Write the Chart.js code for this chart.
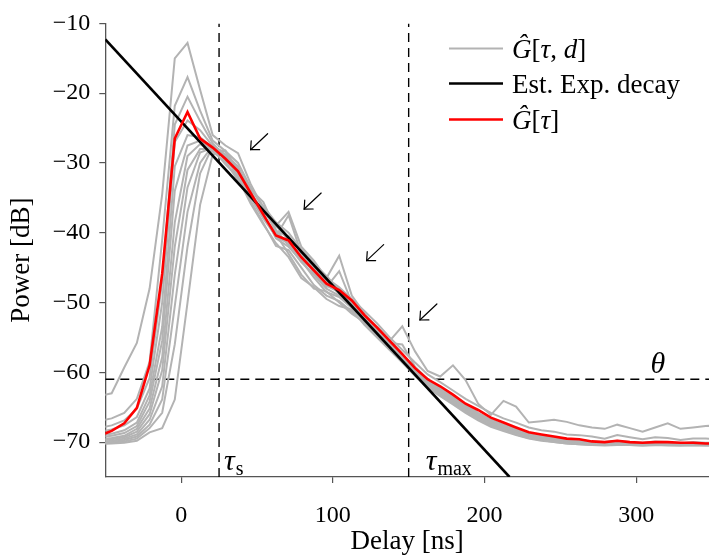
<!DOCTYPE html>
<html><head><meta charset="utf-8">
<script src="https://cdn.jsdelivr.net/npm/chart.js@4.4.0/dist/chart.umd.min.js"></script>
<style>html,body{margin:0;padding:0;background:#fff;}canvas{display:block;}</style>
</head><body>
<canvas id="c" width="709" height="559"></canvas>
<script>
// ---- data ----
const delay = [-54.2,-45.8,-37.5,-29.2,-20.8,-12.5,-4.2,4.2,12.5,20.8,29.2,37.5,45.8,54.2,62.5,70.8,79.2,87.5,95.8,104.2,112.5,120.8,129.2,137.5,145.8,154.2,162.5,170.8,179.2,187.5,195.8,204.2,212.5,220.8,229.2,237.5,245.8,254.2,262.5,270.8,279.2,287.5,295.8,304.2,312.5,320.8,329.2,337.5,345.8,354.2];

const gA = [-63.4,-63.0,-59.3,-55.8,-48.0,-34.5,-15.0,-12.8,-19.5,-26.0,
 -27.5,-28.6,-33.0,-36.5,-39.0,-37.0,-42.0,-44.0,-46.5,-43.3,-49.0,-51.5,-53.8,-55.5,-53.4,-57.0,-59.8,-60.6,-59.0,-61.1,
 -64.5,-66.1,-64.1,-64.9,-67.2,-67.0,-66.8,-67.1,-67.6,-67.9,-68.1,-67.5,-68.0,-68.5,-67.9,-67.3,-68.1,-67.9,-67.7,-67.6];
const gB = [-67.0,-66.6,-65.8,-63.8,-58.5,-41.0,-21.8,-17.7,-22.5,-26.8,
 -28.3,-30.0,-33.5,-36.5,-39.8,-40.5,-42.8,-44.8,-46.5,-47.8,-49.5,-51.2,-53.0,-55.0,-56.8,-58.6,-60.3,-61.4,-62.6,-63.8,
 -64.8,-65.8,-66.6,-67.2,-67.9,-68.3,-68.5,-68.9,-69.0,-69.2,-69.5,-69.0,-69.3,-69.6,-69.3,-69.4,-69.7,-69.5,-69.5,-69.6];
const gC = [-68.0,-67.6,-66.9,-65.2,-60.8,-47.0,-24.5,-20.5,-24.0,-27.2,
 -29.0,-31.0,-34.0,-37.5,-40.6,-41.5,-43.8,-45.5,-47.6,-48.5,-50.2,-52.3,-54.0,-56.0,-57.8,-59.8,-61.4,-62.6,-63.8,-65.0,
 -66.0,-67.0,-67.6,-68.2,-68.8,-69.2,-69.4,-69.6,-69.7,-69.9,-70.0,-69.8,-70.0,-70.1,-69.9,-70.0,-70.2,-70.0,-70.1,-70.1];
const gD = [-68.5,-68.2,-67.6,-66.4,-62.3,-50.0,-27.0,-23.9,-25.3,-27.6,
 -29.6,-31.5,-35.0,-38.0,-40.5,-37.5,-43.0,-45.8,-47.8,-45.5,-50.0,-51.8,-53.6,-55.8,-56.0,-59.2,-61.0,-62.2,-63.4,-64.6,
 -65.8,-66.8,-67.5,-68.1,-68.8,-69.2,-69.5,-69.8,-69.9,-70.0,-70.2,-70.0,-70.1,-70.2,-70.0,-70.1,-70.2,-70.2,-70.3,-70.2];
const gE = [-69.0,-68.8,-68.3,-67.2,-63.3,-53.5,-30.5,-26.0,-26.3,-27.8,
 -28.4,-30.8,-33.8,-35.6,-39.6,-41.8,-44.2,-46.0,-48.0,-49.0,-50.5,-52.6,-54.4,-56.3,-58.0,-59.9,-61.6,-62.8,-64.0,-65.2,
 -66.3,-67.2,-67.9,-68.5,-69.0,-69.4,-69.7,-69.9,-70.1,-70.2,-70.3,-70.1,-70.2,-70.3,-70.2,-70.3,-70.3,-70.2,-70.4,-70.3];
const gF = [-69.3,-69.1,-68.7,-67.7,-64.2,-55.5,-34.0,-27.5,-26.8,-28.2,
 -29.0,-31.8,-35.5,-38.6,-41.9,-42.5,-45.0,-47.5,-49.0,-49.8,-51.3,-53.0,-54.8,-56.6,-58.4,-60.2,-61.9,-63.0,-64.2,-65.4,
 -66.5,-67.4,-68.1,-68.7,-69.2,-69.6,-69.8,-70.0,-70.2,-70.3,-70.4,-70.2,-70.3,-70.4,-70.3,-70.3,-70.4,-70.4,-70.4,-70.4];
const gG = [-69.6,-69.4,-69.1,-68.1,-65.2,-57.8,-38.5,-29.0,-27.3,-28.4,
 -29.8,-32.5,-34.8,-37.8,-40.2,-43.0,-46.0,-48.0,-48.4,-50.0,-51.6,-52.8,-54.6,-56.6,-58.5,-60.3,-62.0,-63.2,-64.4,-65.6,
 -66.7,-67.6,-68.3,-68.9,-69.4,-69.7,-70.0,-70.2,-70.3,-70.4,-70.4,-70.3,-70.4,-70.5,-70.4,-70.4,-70.5,-70.4,-70.5,-70.5];
const gH = [-69.8,-69.6,-69.3,-68.5,-66.0,-59.7,-42.0,-31.0,-28.0,-28.0,
 -30.2,-32.0,-34.2,-37.0,-39.0,-41.0,-42.5,-45.0,-46.8,-48.8,-50.6,-52.2,-54.2,-56.2,-58.0,-59.8,-61.5,-62.7,-63.9,-65.1,
 -66.2,-67.1,-67.8,-68.5,-69.0,-69.4,-69.7,-69.9,-70.0,-70.1,-70.2,-70.1,-70.2,-70.2,-70.1,-70.2,-70.3,-70.2,-70.3,-70.3];
const gI = [-70.0,-69.8,-69.5,-68.9,-66.8,-62.0,-46.0,-33.5,-28.5,-27.8,
 -29.4,-31.0,-33.6,-36.2,-38.5,-40.0,-42.4,-44.4,-46.2,-48.2,-50.0,-51.7,-53.5,-55.4,-57.4,-59.4,-61.0,-62.3,-63.5,-64.8,
 -65.9,-66.9,-67.6,-68.3,-68.8,-69.2,-69.5,-69.8,-69.9,-70.0,-70.1,-70.0,-70.1,-70.2,-70.1,-70.1,-70.2,-70.2,-70.2,-70.2];
const gJ = [-70.1,-70.0,-69.7,-69.2,-67.5,-63.9,-50.5,-37.0,-30.0,-27.5,
 -29.0,-32.2,-35.8,-38.8,-41.5,-43.5,-46.5,-47.8,-49.5,-50.5,-51.0,-53.2,-55.0,-56.8,-58.6,-60.5,-62.2,-63.4,-64.6,-65.8,
 -66.9,-67.8,-68.4,-69.0,-69.5,-69.8,-70.0,-70.2,-70.3,-70.4,-70.5,-70.4,-70.4,-70.5,-70.4,-70.5,-70.5,-70.5,-70.5,-70.5];
const gK = [-70.2,-70.1,-69.9,-69.5,-68.0,-65.8,-56.0,-42.0,-31.5,-27.6,
 -28.8,-30.5,-34.2,-37.2,-40.8,-42.0,-44.0,-46.4,-48.5,-49.2,-50.8,-52.5,-54.2,-56.0,-57.9,-59.9,-61.6,-62.9,-64.1,-65.3,
 -66.4,-67.3,-68.0,-68.6,-69.1,-69.5,-69.8,-70.0,-70.2,-70.3,-70.3,-70.2,-70.3,-70.3,-70.3,-70.3,-70.4,-70.3,-70.4,-70.4];
const gL = [-70.3,-70.2,-70.1,-69.8,-68.6,-68.0,-63.9,-50.0,-36.0,-28.8,
 -28.2,-31.4,-34.6,-37.8,-40.0,-41.6,-43.2,-45.2,-47.2,-48.0,-49.8,-52.0,-53.8,-55.6,-57.6,-59.6,-61.3,-62.5,-63.7,-64.9,
 -66.0,-67.0,-67.7,-68.4,-68.9,-69.3,-69.6,-69.9,-70.0,-70.1,-70.2,-70.1,-70.2,-70.3,-70.2,-70.2,-70.3,-70.3,-70.3,-70.3];
const grayLines = [gA,gB,gC,gD,gE,gF,gG,gH,gI,gJ,gK,gL];

const meanPdp = [-69.1,-68.4,-67.3,-65.1,-59.0,-45.9,-26.5,-22.7,-26.5,-27.8,
 -29.4,-31.2,-34.3,-37.4,-40.4,-41.1,-43.5,-45.4,-47.3,-48.2,-49.7,-51.8,-53.6,-55.5,-57.4,-59.4,-61.0,-62.0,-63.2,-64.5,
 -65.4,-66.5,-67.2,-67.9,-68.6,-68.9,-69.2,-69.5,-69.6,-69.9,-70.0,-69.8,-70.0,-70.1,-70.0,-70.0,-70.1,-70.1,-70.2,-70.2];

const decayX = [-50, 216.5];
const decayY = [-12.3, -75];

const tauS = 25, tauMax = 150, thetaLevel = -61;
const xTicks = [0, 100, 200, 300];
const yTicks = [-70, -60, -50, -40, -30, -20, -10];
const arrowTips = [[45.8, -28.1], [81.1, -36.6], [122.3, -44.0], [157.4, -52.5]];
const thetaPos = [314.3, -58.9];
const legendLabels = ['Ĝ[τ, d]', 'Est. Exp. decay', 'Ĝ[τ]'];
const yTitle = 'Power [dB]';

// ---- chart ----
const SERIF = '"Liberation Serif", "DejaVu Serif", serif';
const GRAY = '#b3b3b3';
const pts = (xs, ys) => xs.map((x, i) => ({x, y: ys[i]}));
const fmt = v => (v < 0 ? '\u2212' + Math.abs(v) : String(v));

const datasets = [];
grayLines.forEach((g, i) => datasets.push({
  label: i === 0 ? legendLabels[0] : '_g' + i,
  data: pts(delay, g), borderColor: GRAY, borderWidth: 2, order: 3, clip: 0
}));
datasets.push({label: legendLabels[1], data: pts(decayX, decayY), borderColor: '#000', borderWidth: 2.6, order: 2, clip: 0});
datasets.push({label: legendLabels[2], data: pts(delay, meanPdp), borderColor: '#ff0000', borderWidth: 2.6, order: 1, clip: 0});
datasets.push({label: '_ts', data: [{x: tauS, y: -75}, {x: tauS, y: -10}], borderColor: '#000', borderWidth: 1.4, borderDash: [9, 6], order: 4});
datasets.push({label: '_tm', data: [{x: tauMax, y: -75}, {x: tauMax, y: -10}], borderColor: '#000', borderWidth: 1.4, borderDash: [9, 6], order: 4});
datasets.push({label: '_th', data: [{x: -50, y: thetaLevel}, {x: 348, y: thetaLevel}], borderColor: '#000', borderWidth: 1.4, borderDash: [9, 6], order: 4});

function drawRuns(ctx, x, y, runs) {
  let cx = x;
  runs.forEach(([txt, font]) => { ctx.font = font; ctx.fillText(txt, cx, y); cx += ctx.measureText(txt).width; });
}

const annot = {
  id: 'annot',
  afterDatasetsDraw(chart) {
    const {ctx, scales: {x, y}, chartArea: a} = chart;
    ctx.save();
    // arrows
    ctx.strokeStyle = '#000'; ctx.lineWidth = 1.2; ctx.lineCap = 'round';
    arrowTips.forEach(([tx, ty]) => {
      const px = x.getPixelForValue(tx), py = y.getPixelForValue(ty);
      const ex = px + 17, ey = py - 16;
      ctx.beginPath(); ctx.moveTo(ex, ey); ctx.lineTo(px, py); ctx.stroke();
      const ang = Math.atan2(py - ey, px - ex), h = 9;
      ctx.beginPath();
      ctx.moveTo(px - h * Math.cos(ang - 0.75), py - h * Math.sin(ang - 0.75));
      ctx.lineTo(px, py);
      ctx.lineTo(px - h * Math.cos(ang + 0.75), py - h * Math.sin(ang + 0.75));
      ctx.stroke();
    });
    ctx.fillStyle = '#000';
    // theta
    ctx.font = 'italic 30px ' + SERIF; ctx.textAlign = 'center'; ctx.textBaseline = 'middle';
    ctx.fillText('θ', x.getPixelForValue(thetaPos[0]), y.getPixelForValue(thetaPos[1]));
    // y-axis title (slightly below the area centre, as in the reference)
    ctx.save();
    ctx.translate(22, (a.top + a.bottom) / 2 + 10);
    ctx.rotate(-Math.PI / 2);
    ctx.font = '27px ' + SERIF;
    ctx.fillText(yTitle, 0, 0);
    ctx.restore();
    // tau labels
    ctx.textAlign = 'left'; ctx.textBaseline = 'alphabetic';
    const by = a.bottom;
    let tx = x.getPixelForValue(tauS) + 5;
    ctx.font = 'italic 30px ' + SERIF; ctx.fillText('τ', tx, by - 7);
    tx += ctx.measureText('τ').width + 1;
    ctx.font = '20px ' + SERIF; ctx.fillText('s', tx, by - 2);
    tx = x.getPixelForValue(tauMax) + 17;
    ctx.font = 'italic 30px ' + SERIF; ctx.fillText('τ', tx, by - 7);
    tx += ctx.measureText('τ').width + 1;
    ctx.font = '20px ' + SERIF; ctx.fillText('max', tx, by - 2);
    // legend
    const lx0 = 449, lx1 = 503, tx0 = 512;
    const rows = [[48.5, GRAY, 2], [83.5, '#000', 2.6], [119.5, '#ff0000', 2.6]];
    rows.forEach(([ly, col, w]) => {
      ctx.strokeStyle = col; ctx.lineWidth = w; ctx.lineCap = 'butt';
      ctx.beginPath(); ctx.moveTo(lx0, ly); ctx.lineTo(lx1, ly); ctx.stroke();
    });
    const R = '27px ' + SERIF, I = 'italic 27px ' + SERIF;
    drawRuns(ctx, tx0, 57.5, [['Ĝ', I], ['[', R], ['τ', I], [', ', R], ['d', I], [']', R]]);
    drawRuns(ctx, tx0, 92.5, [[legendLabels[1], R]]);
    drawRuns(ctx, tx0, 128.5, [['Ĝ', I], ['[', R], ['τ', I], [']', R]]);
    ctx.restore();
  }
};

new Chart(document.getElementById('c'), {
  type: 'scatter',
  data: {datasets},
  plugins: [annot],
  options: {
    responsive: false, animation: false, devicePixelRatio: 1,
    showLine: true,
    layout: {padding: {top: 15.7, right: 0, left: 0, bottom: 0}},
    elements: {point: {radius: 0, hoverRadius: 0}, line: {tension: 0, fill: false}},
    plugins: {legend: {display: false}, tooltip: {enabled: false}},
    scales: {
      x: {
        type: 'linear', min: -50, max: 348,
        afterFit(s) { s.height = 82; },
        afterBuildTicks(s) { s.ticks = xTicks.map(v => ({value: v})); },
        ticks: {font: {family: SERIF, size: 24}, color: '#000', padding: 18, maxRotation: 0, callback: fmt},
        grid: {display: true, drawOnChartArea: false, drawTicks: true, tickLength: 6, color: '#555', lineWidth: 1.2},
        border: {display: true, color: '#555', width: 1.3},
        title: {display: true, text: 'Delay [ns]', font: {family: SERIF, size: 27}, color: '#000', padding: {top: 0, bottom: 1}}
      },
      y: {
        type: 'linear', min: -75, max: -10,
        afterFit(s) { s.width = 105.3; },
        afterBuildTicks(s) { s.ticks = yTicks.map(v => ({value: v})); },
        ticks: {font: {family: SERIF, size: 24}, color: '#000', padding: 9, callback: fmt},
        grid: {display: true, drawOnChartArea: false, drawTicks: true, tickLength: 6, color: '#555', lineWidth: 1.2},
        border: {display: true, color: '#555', width: 1.3},
        title: {display: false}
      }
    }
  }
});
</script>
</body></html>
